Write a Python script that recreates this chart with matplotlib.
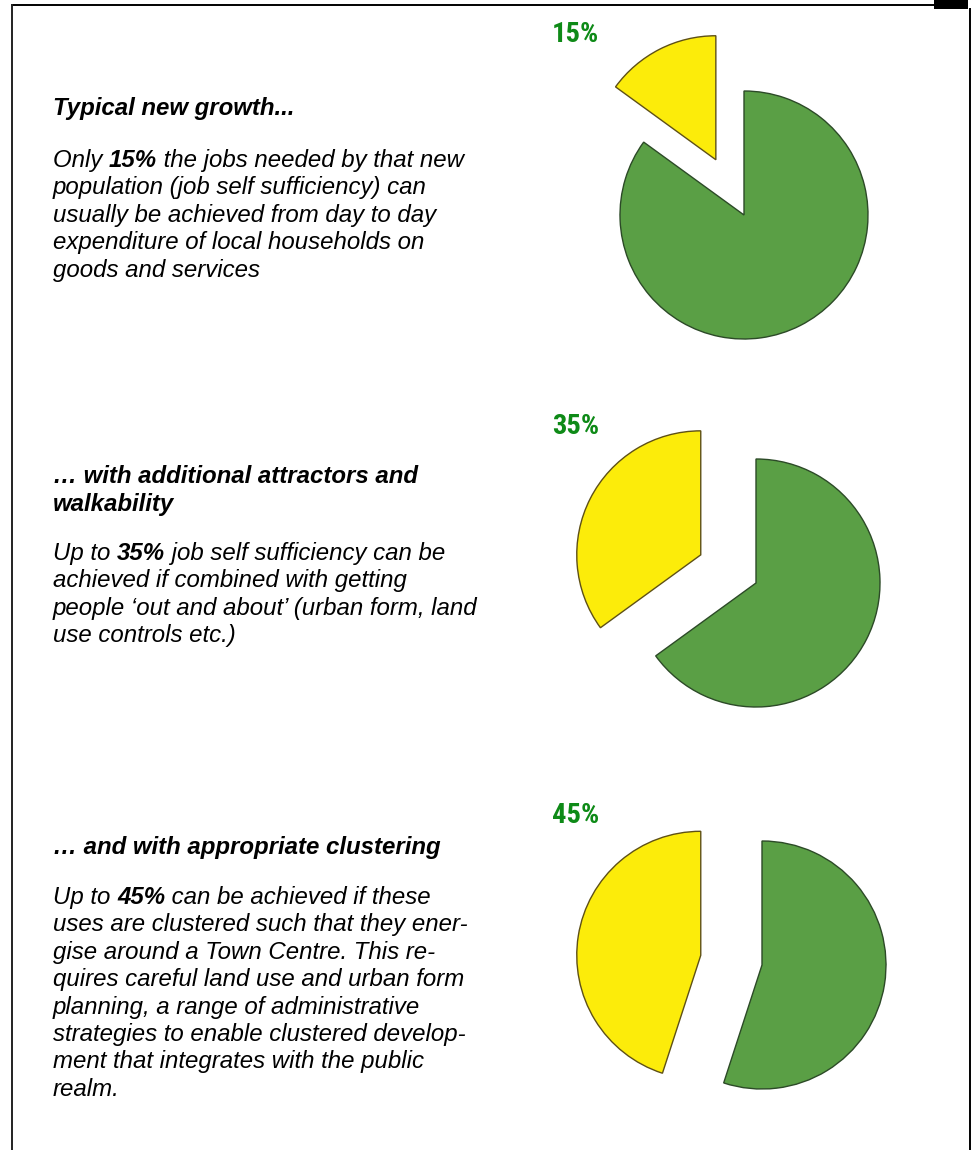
import matplotlib

matplotlib.use("Agg")
import matplotlib.pyplot as plt
from matplotlib.patches import Rectangle

W, H = 972, 1150

# job self sufficiency share for each scenario (percent)
shares = [15, 35, 45]
share_labels = ["15%", "35%", "45%"]

headings = [
    ["Typical new growth..."],
    ["\u2026 with additional attractors and", "walkability"],
    ["\u2026 and with appropriate clustering"],
]

# body lines; the first line of each block carries the bold percentage
bodies = [
    [
        [("Only ", "normal"), ("15%", "bold"), (" the jobs needed by that new", "normal")],
        "population (job self sufficiency) can",
        "usually be achieved from day to day",
        "expenditure of local households on",
        "goods and services",
    ],
    [
        [("Up to ", "normal"), ("35%", "bold"), (" job self sufficiency can be", "normal")],
        "achieved if combined with getting",
        "people \u2018out and about\u2019 (urban form, land",
        "use controls etc.)",
    ],
    [
        [("Up to ", "normal"), ("45%", "bold"), (" can be achieved if these", "normal")],
        "uses are clustered such that they ener-",
        "gise around a Town Centre. This re-",
        "quires careful land use and urban form",
        "planning, a range of administrative",
        "strategies to enable clustered develop-",
        "ment that integrates with the public",
        "realm.",
    ],
]

GREEN = "#5a9f45"
YELLOW = "#fcec0a"
LABEL_GREEN = "#0e8a17"

fig = plt.figure(figsize=(W / 100, H / 100), dpi=100)
ax = fig.add_axes([0, 0, 1, 1])
renderer = fig.canvas.get_renderer()


def Y(py):
    # pixel rows run downwards, data y runs upwards
    return H - py


TEXT_KW = dict(family=["Liberation Sans", "DejaVu Sans"], fontsize=17.3,
               style="italic", color="black", va="baseline", ha="left")


def text_width(s, **kw):
    # pad with bars so trailing/leading spaces are counted
    t = ax.text(0, 0, "|" + s + "|", **kw)
    w = t.get_window_extent(renderer).width
    t.remove()
    t = ax.text(0, 0, "||", **kw)
    w0 = t.get_window_extent(renderer).width
    t.remove()
    return w - w0


def draw_line(x, py, line, weight="normal"):
    if isinstance(line, str):
        line = [(line, weight)]
    for piece, wt in line:
        kw = dict(TEXT_KW, weight=wt)
        ax.text(x, Y(py), piece, **kw)
        x += text_width(piece, **kw)


# text column
x0 = 53
heading_base = [115, 483, 854]
body_base = [167, 560, 904]
step = 27.4
for hd, body, hb, bb in zip(headings, bodies, heading_base, body_base):
    for i, line in enumerate(hd):
        draw_line(x0, hb + i * 28, line, "bold")
    for i, line in enumerate(body):
        draw_line(x0, bb + i * step, line)

# exploded pies
centers = [(744, 215), (756, 583), (762, 965)]
label_base = [42, 434, 823]
radius = 124
for share, lab, (cx, cy), lb in zip(shares, share_labels, centers, label_base):
    wedges, _ = ax.pie([share, 100 - share], colors=[YELLOW, GREEN],
                       explode=[62, 0], radius=radius, center=(cx, Y(cy)),
                       startangle=90, counterclock=True, frame=True,
                       wedgeprops=dict(linewidth=1.0))
    wedges[0].set_edgecolor("#5e5016")
    wedges[1].set_edgecolor("#2c4a27")
    ax.text(599, Y(lb), lab, family=["Roboto Condensed", "Roboto"],
            fontsize=20.5, weight="heavy", color=LABEL_GREEN, ha="right",
            va="baseline")

# page frame
ax.plot([11, 934], [Y(4.5), Y(4.5)], color="black", lw=1.4, solid_capstyle="butt")
ax.plot([11.5, 11.5], [Y(4), Y(H)], color="#222222", lw=1.4, solid_capstyle="butt")
ax.plot([969.5, 969.5], [Y(8), Y(H)], color="black", lw=1.4, solid_capstyle="butt")
ax.add_patch(Rectangle((934, Y(8.5)), 34, 8.5, color="black", lw=0))

ax.set_xlim(0, W)
ax.set_ylim(0, H)
ax.set_aspect("auto")
ax.axis("off")

fig.savefig("out.png", dpi=100)
plt.close(fig)
